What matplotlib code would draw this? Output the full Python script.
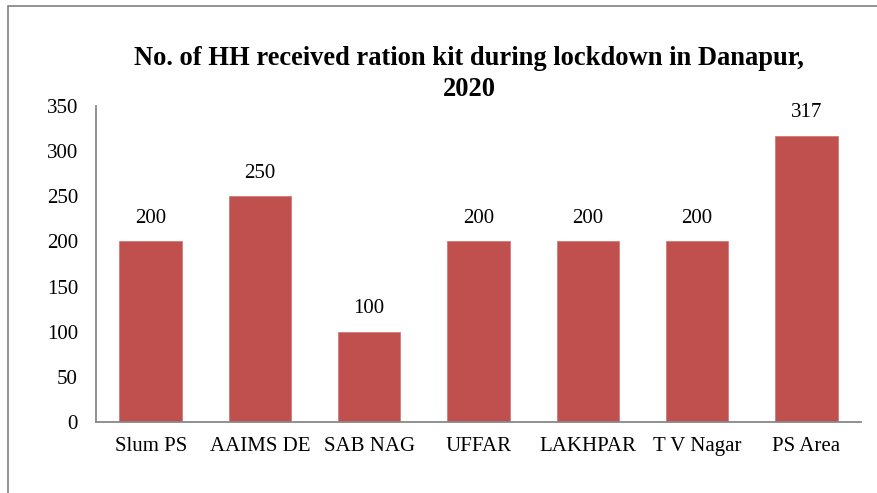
import matplotlib
matplotlib.use("Agg")
import matplotlib.pyplot as plt
from matplotlib.patches import Rectangle

categories = ["Slum PS", "AAIMS DE", "SAB NAG", "UFFAR", "LAKHPAR", "T V Nagar", "PS Area"]
values = [200, 250, 100, 200, 200, 200, 317]
yticks = [0, 50, 100, 150, 200, 250, 300, 350]
title = "No. of HH received ration kit during lockdown in Danapur,\n2020"

plt.rcParams['font.family'] = ['Liberation Serif', 'DejaVu Serif']

W, H = 877, 493
fig = plt.figure(figsize=(W / 100, H / 100), dpi=100)
fig.patch.set_facecolor("white")

# outer chart border (extends beyond right/bottom edges)
fig.patches.append(Rectangle((8 / W, -0.1), 1.2, (H - 6) / H + 0.1,
                             transform=fig.transFigure, fill=False,
                             edgecolor="#808080", linewidth=1.2))

ax = fig.add_axes([96 / W, 1 - 422 / H, (861 - 96) / W, (422 - 106) / H])
x = range(len(categories))
bars = ax.bar(x, values, width=0.57, color="#C0504D", edgecolor="#D07a78", linewidth=0.6)
ax.set_xlim(-0.5, len(categories) - 0.5)
ax.set_ylim(0, 350)
ax.set_yticks(yticks)
ax.set_yticklabels([str(t) for t in yticks], fontsize=15)
ax.set_xticks(list(x))
ax.set_xticklabels(categories, fontsize=15)
ax.tick_params(axis="both", length=0)
ax.tick_params(axis="y", pad=13)
ax.tick_params(axis="x", pad=11)
for s in ["top", "right"]:
    ax.spines[s].set_visible(False)
for s in ["left", "bottom"]:
    ax.spines[s].set_color("#888888")
    ax.spines[s].set_linewidth(1.3)

for xi, v in zip(x, values):
    ax.annotate(str(v), (xi, v), xytext=(0, 16.5), textcoords="offset points",
                ha="center", va="center", fontsize=15)

fig.text(469 / W, 1 - 74 / H, title, ha="center", va="center",
         fontsize=19.1, fontweight="bold", linespacing=1.32)

fig.savefig("out.png", dpi=100)
